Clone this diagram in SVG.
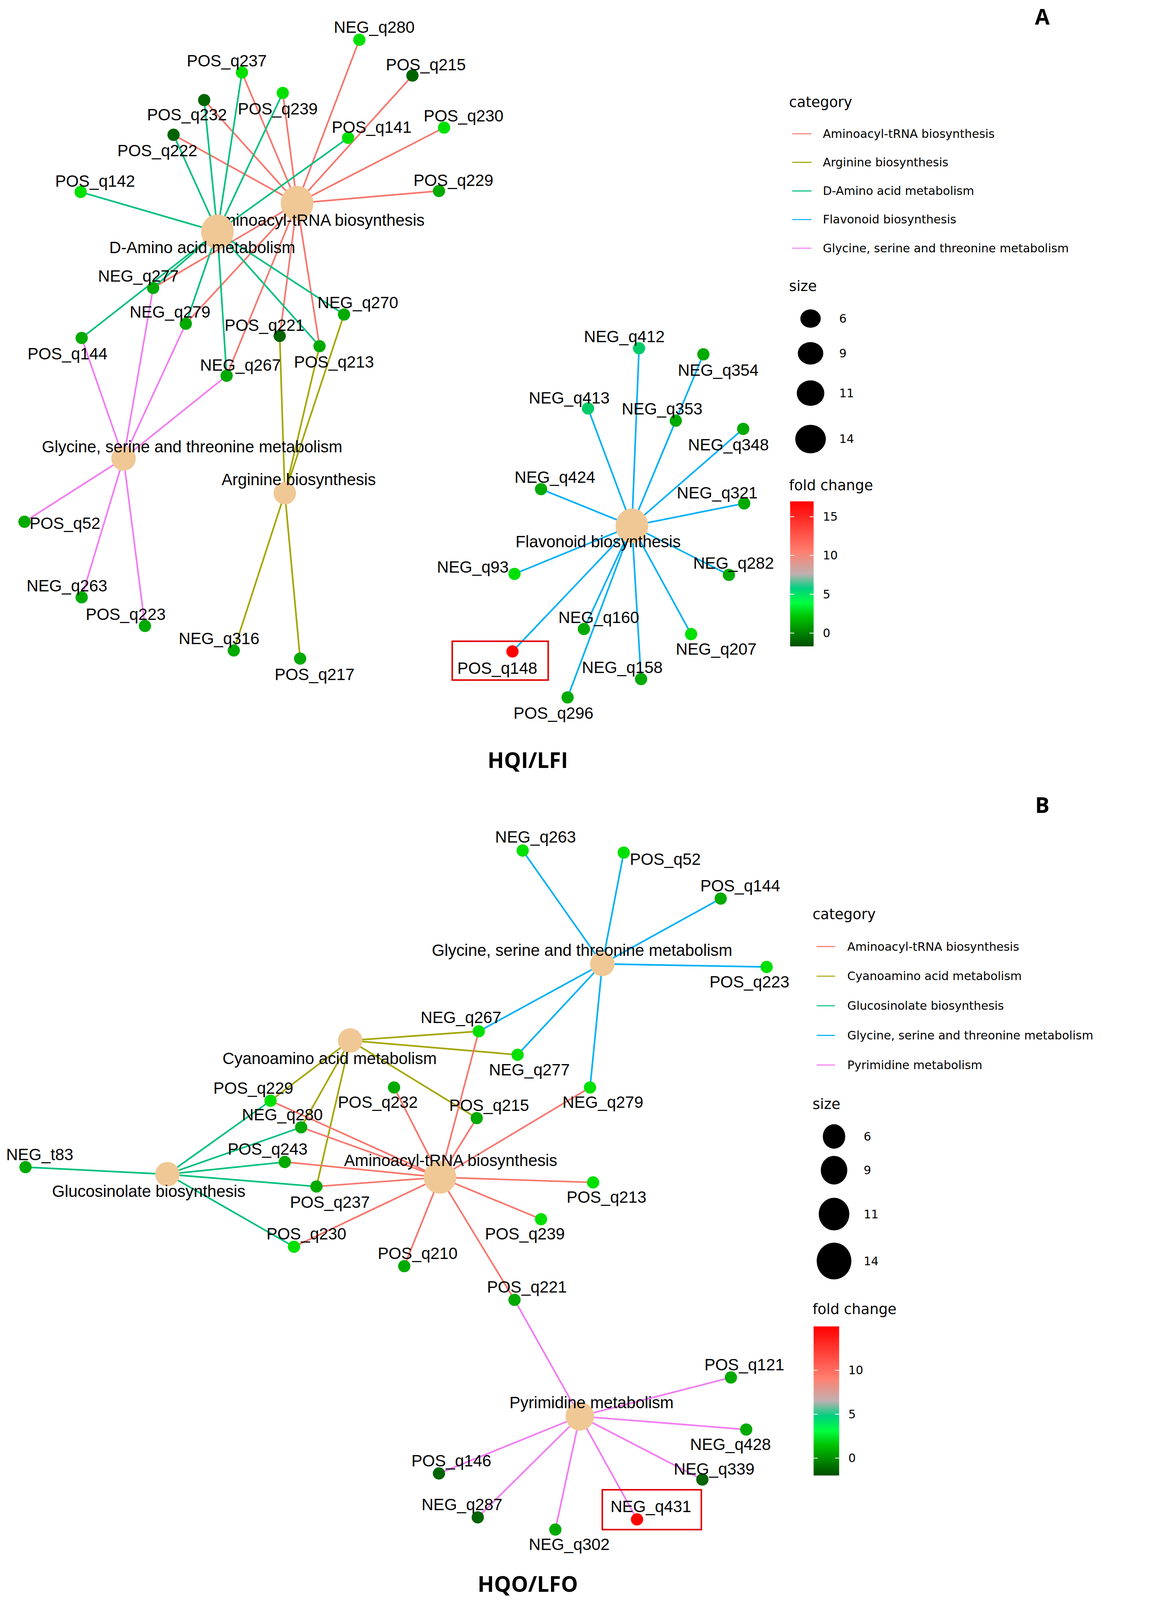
<svg xmlns="http://www.w3.org/2000/svg" width="2978" height="4318" viewBox="0 0 2978 4318">
<style>
.e{stroke-width:1.6;fill:none}
.a{stroke:#F8766D}.o{stroke:#A3A500}.t{stroke:#00BF7D}.b{stroke:#00B0F6}.p{stroke:#F37BF3}
.h{fill:#F0C896}
.l{font-family:"Liberation Sans",Arial,sans-serif;font-size:16px;fill:#000}
.g{font-family:"DejaVu Sans",sans-serif;font-size:11.5px;fill:#000}
.gt{font-family:"DejaVu Sans",sans-serif;font-size:14px;fill:#000}
.c1{fill:#00E000}.c2{fill:#00AA00}.c3{fill:#006400}.cr{fill:#FF0000}
.ttl{font-family:"Open Sans","DejaVu Sans",sans-serif;font-size:21px;font-weight:bold}
</style>
<defs>
<linearGradient id="fcA" x1="0" y1="1" x2="0" y2="0">
<stop offset="0" stop-color="#004d00"/><stop offset="0.2" stop-color="#00c000"/><stop offset="0.3" stop-color="#00ff40"/><stop offset="0.4" stop-color="#00d080"/><stop offset="0.5" stop-color="#c0b0b0"/><stop offset="0.65" stop-color="#ff8070"/><stop offset="1" stop-color="#ff0000"/>
</linearGradient>
</defs>
<rect width="2978" height="4318" fill="#fff"/>
<g transform="scale(2.614)">
<g id="connectors">
<path class="e a" d="M291,199L352,39M291,199L237,71M291,199L404,74M291,199L277,91M291,199L200,98M291,199L170,132M291,199L435,125M291,199L430,187M291,199L150,282M291,199L182,317M291,199L222,368M291,199L274,329M291,199L313,339"/>
<path class="e t" d="M213,227L237,71M213,227L200,98M213,227L170,132M213,227L277,91M213,227L79,188M213,227L341,135M213,227L150,282M213,227L80,331M213,227L182,317M213,227L222,368M213,227L313,339M213,227L337,308"/>
<path class="e p" d="M121,449L80,331M121,449L150,282M121,449L182,317M121,449L222,368M121,449L24,511M121,449L80,585M121,449L142,613"/>
<path class="e o" d="M279,483L274,329M279,483L337,308M279,483L313,339M279,483L229,637M279,483L294,645"/>
<path class="e b" d="M619,515L626,341M619,515L689,347M619,515L576,400M619,515L662,412M619,515L728,420M619,515L530,479M619,515L729,493M619,515L504,562M619,515L714,563M619,515L572,616M619,515L502,638M619,515L677,621M619,515L628,665M619,515L556,683"/>
<path class="e b" d="M590,944L512,833M590,944L611,835M590,944L706,880M590,944L751,947M590,944L469,1010M590,944L507,1033M590,944L578,1065"/>
<path class="e o" d="M343,1019L469,1010M343,1019L507,1033M343,1019L467,1095M343,1019L265,1078M343,1019L295,1104M343,1019L310,1162"/>
<path class="e a" d="M431,1153L469,1010M431,1153L386,1065M431,1153L467,1095M431,1153L578,1065M431,1153L295,1104M431,1153L265,1078M431,1153L279,1138M431,1153L310,1162M431,1153L581,1158M431,1153L530,1194M431,1153L396,1240M431,1153L504,1273M431,1153L288,1221"/>
<path class="e t" d="M164,1150L25,1143M164,1150L265,1078M164,1150L295,1104M164,1150L279,1138M164,1150L310,1162M164,1150L288,1221"/>
<path class="e p" d="M568,1387L504,1273M568,1387L716,1349M568,1387L731,1400M568,1387L688,1449M568,1387L430,1443M568,1387L468,1486M568,1387L544,1498M568,1387L624,1488"/>
</g>
<g id="A_aminoacyl"><ellipse class="h" cx="291" cy="199" rx="16" ry="17"/><text class="l" x="207" y="221">Aminoacyl-tRNA biosynthesis</text></g>
<g id="A_damino"><ellipse class="h" cx="213" cy="227" rx="16" ry="17"/><text class="l" x="107" y="248">D-Amino acid metabolism</text></g>
<g id="A_glycine"><circle class="h" cx="121" cy="449" r="12"/><text class="l" x="41" y="443">Glycine, serine and threonine metabolism</text></g>
<g id="A_arginine"><circle class="h" cx="279" cy="483" r="11"/><text class="l" x="217" y="475">Arginine biosynthesis</text></g>
<g id="A_flavonoid"><ellipse class="h" cx="619" cy="515" rx="16" ry="17"/><text class="l" x="505" y="536">Flavonoid biosynthesis</text></g>
<g id="A_NEG_q280"><circle class="c1" cx="352" cy="39" r="6"/><text class="l" x="327" y="32">NEG_q280</text></g>
<g id="A_POS_q237"><circle class="c1" cx="237" cy="71" r="6"/><text class="l" x="183" y="65">POS_q237</text></g>
<g id="A_POS_q215"><circle class="c3" cx="404" cy="74" r="6"/><text class="l" x="378" y="69">POS_q215</text></g>
<g id="A_POS_q239"><circle class="c1" cx="277" cy="91" r="6"/><text class="l" x="233" y="112">POS_q239</text></g>
<g id="A_POS_q232"><circle class="c3" cx="200" cy="98" r="6"/><text class="l" x="144" y="118">POS_q232</text></g>
<g id="A_POS_q222"><circle class="c3" cx="170" cy="132" r="6"/><text class="l" x="115" y="153">POS_q222</text></g>
<g id="A_POS_q141"><circle class="c1" cx="341" cy="135" r="6"/><text class="l" x="325" y="130">POS_q141</text></g>
<g id="A_POS_q230"><circle class="c1" cx="435" cy="125" r="6"/><text class="l" x="415" y="119">POS_q230</text></g>
<g id="A_POS_q142"><circle class="c1" cx="79" cy="188" r="6"/><text class="l" x="54" y="183">POS_q142</text></g>
<g id="A_POS_q229"><circle class="c2" cx="430" cy="187" r="6"/><text class="l" x="405" y="182">POS_q229</text></g>
<g id="A_NEG_q277"><circle class="c2" cx="150" cy="282" r="6"/><text class="l" x="96" y="276">NEG_q277</text></g>
<g id="A_NEG_q279"><circle class="c2" cx="182" cy="317" r="6"/><text class="l" x="127" y="311">NEG_q279</text></g>
<g id="A_NEG_q270"><circle class="c2" cx="337" cy="308" r="6"/><text class="l" x="311" y="302">NEG_q270</text></g>
<g id="A_POS_q144"><circle class="c2" cx="80" cy="331" r="6"/><text class="l" x="27" y="352">POS_q144</text></g>
<g id="A_POS_q221"><circle class="c3" cx="274" cy="329" r="6"/><text class="l" x="220" y="324">POS_q221</text></g>
<g id="A_POS_q213"><circle class="c2" cx="313" cy="339" r="6"/><text class="l" x="288" y="360">POS_q213</text></g>
<g id="A_NEG_q267"><circle class="c2" cx="222" cy="368" r="6"/><text class="l" x="196" y="363">NEG_q267</text></g>
<g id="A_POS_q52"><circle class="c2" cx="24" cy="511" r="6"/><text class="l" x="29" y="518">POS_q52</text></g>
<g id="A_NEG_q263"><circle class="c2" cx="80" cy="585" r="6"/><text class="l" x="26" y="579">NEG_q263</text></g>
<g id="A_POS_q223"><circle class="c2" cx="142" cy="613" r="6"/><text class="l" x="84" y="607">POS_q223</text></g>
<g id="A_NEG_q316"><circle class="c2" cx="229" cy="637" r="6"/><text class="l" x="175" y="631">NEG_q316</text></g>
<g id="A_POS_q217"><circle class="c2" cx="294" cy="645" r="6"/><text class="l" x="269" y="666">POS_q217</text></g>
<g id="A_NEG_q412"><circle fill="#00cc66" cx="626" cy="341" r="6"/><text class="l" x="572" y="335">NEG_q412</text></g>
<g id="A_NEG_q354"><circle class="c2" cx="689" cy="347" r="6"/><text class="l" x="664" y="368">NEG_q354</text></g>
<g id="A_NEG_q413"><circle fill="#00cc66" cx="576" cy="400" r="6"/><text class="l" x="518" y="395">NEG_q413</text></g>
<g id="A_NEG_q353"><circle class="c2" cx="662" cy="412" r="6"/><text class="l" x="609" y="406">NEG_q353</text></g>
<g id="A_NEG_q348"><circle class="c2" cx="728" cy="420" r="6"/><text class="l" x="674" y="441">NEG_q348</text></g>
<g id="A_NEG_q424"><circle class="c2" cx="530" cy="479" r="6"/><text class="l" x="504" y="473">NEG_q424</text></g>
<g id="A_NEG_q321"><circle class="c2" cx="729" cy="493" r="6"/><text class="l" x="663" y="488">NEG_q321</text></g>
<g id="A_NEG_q93"><circle class="c1" cx="504" cy="562" r="6"/><text class="l" x="428" y="561">NEG_q93</text></g>
<g id="A_NEG_q282"><circle class="c2" cx="714" cy="563" r="6"/><text class="l" x="679" y="557">NEG_q282</text></g>
<g id="A_NEG_q160"><circle class="c2" cx="572" cy="616" r="6"/><text class="l" x="547" y="610">NEG_q160</text></g>
<g id="A_POS_q148"><circle class="cr" cx="502" cy="638" r="6"/><text class="l" x="448" y="660">POS_q148</text><rect x="443" y="628" width="94" height="38" fill="none" stroke="#E00000" stroke-width="1.5"/></g>
<g id="A_NEG_q207"><circle class="c1" cx="677" cy="621" r="6"/><text class="l" x="662" y="641">NEG_q207</text></g>
<g id="A_NEG_q158"><circle class="c2" cx="628" cy="665" r="6"/><text class="l" x="570" y="659">NEG_q158</text></g>
<g id="A_POS_q296"><circle class="c2" cx="556" cy="683" r="6"/><text class="l" x="503" y="704">POS_q296</text></g>
<text class="ttl" x="1021" y="24" text-anchor="middle" font-size="18">A</text>
<text class="ttl" x="517" y="752" text-anchor="middle">HQI/LFI</text>
<g id="legendA">
<text class="gt" x="773" y="105">category</text>
<path stroke="#F8766D" d="M776,131H795"/><text class="g" x="806" y="135">Aminoacyl-tRNA biosynthesis</text>
<path stroke="#A3A500" d="M776,159H795"/><text class="g" x="806" y="163">Arginine biosynthesis</text>
<path stroke="#00BF7D" d="M776,187H795"/><text class="g" x="806" y="191">D-Amino acid metabolism</text>
<path stroke="#00B0F6" d="M776,215H795"/><text class="g" x="806" y="219">Flavonoid biosynthesis</text>
<path stroke="#F37BF3" d="M776,243H795"/><text class="g" x="806" y="247">Glycine, serine and threonine metabolism</text>
<text class="gt" x="773" y="285">size</text>
<ellipse cx="794" cy="312" rx="10" ry="9"/><text class="g" x="822" y="316">6</text>
<ellipse cx="794" cy="346" rx="12.5" ry="11"/><text class="g" x="822" y="350">9</text>
<ellipse cx="794" cy="385" rx="13.5" ry="12.5"/><text class="g" x="822" y="389">11</text>
<ellipse cx="794" cy="430" rx="15" ry="14"/><text class="g" x="822" y="434">14</text>
<text class="gt" x="773" y="480">fold change</text>
<rect x="774" y="491" width="23" height="142" fill="url(#fcA)"/>
<g stroke="#fff" stroke-width="0.8"><path d="M774,506h4M793,506h4M774,544h4M793,544h4M774,582h4M793,582h4M774,620h4M793,620h4"/></g>
<text class="g" x="806" y="510">15</text><text class="g" x="806" y="548">10</text><text class="g" x="806" y="586">5</text><text class="g" x="806" y="624">0</text>
</g>
<g id="B_glycine"><circle class="h" cx="590" cy="944" r="12"/><text class="l" x="423" y="936">Glycine, serine and threonine metabolism</text></g>
<g id="B_cyano"><circle class="h" cx="343" cy="1019" r="12"/><text class="l" x="218" y="1042">Cyanoamino acid metabolism</text></g>
<g id="B_aminoacyl"><ellipse class="h" cx="431" cy="1153" rx="16" ry="16"/><text class="l" x="337" y="1142">Aminoacyl-tRNA biosynthesis</text></g>
<g id="B_glucosinolate"><circle class="h" cx="164" cy="1150" r="12"/><text class="l" x="51" y="1172">Glucosinolate biosynthesis</text></g>
<g id="B_pyrimidine"><circle class="h" cx="568" cy="1387" r="14"/><text class="l" x="499" y="1379">Pyrimidine metabolism</text></g>
<g id="B_NEG_q263"><circle class="c1" cx="512" cy="833" r="6"/><text class="l" x="485" y="825">NEG_q263</text></g>
<g id="B_POS_q52"><circle class="c1" cx="611" cy="835" r="6"/><text class="l" x="617" y="847">POS_q52</text></g>
<g id="B_POS_q144"><circle class="c2" cx="706" cy="880" r="6"/><text class="l" x="686" y="873">POS_q144</text></g>
<g id="B_POS_q223"><circle class="c1" cx="751" cy="947" r="6"/><text class="l" x="695" y="967">POS_q223</text></g>
<g id="B_NEG_q267"><circle class="c1" cx="469" cy="1010" r="6"/><text class="l" x="412" y="1002">NEG_q267</text></g>
<g id="B_NEG_q277"><circle class="c1" cx="507" cy="1033" r="6"/><text class="l" x="479" y="1053">NEG_q277</text></g>
<g id="B_POS_q229"><circle class="c1" cx="265" cy="1078" r="6"/><text class="l" x="209" y="1071">POS_q229</text></g>
<g id="B_NEG_q280"><circle class="c2" cx="295" cy="1104" r="6"/><text class="l" x="237" y="1097">NEG_q280</text></g>
<g id="B_POS_q232"><circle class="c2" cx="386" cy="1065" r="6"/><text class="l" x="331" y="1085">POS_q232</text></g>
<g id="B_POS_q215"><circle class="c2" cx="467" cy="1095" r="6"/><text class="l" x="440" y="1088">POS_q215</text></g>
<g id="B_NEG_q279"><circle class="c1" cx="578" cy="1065" r="6"/><text class="l" x="551" y="1085">NEG_q279</text></g>
<g id="B_NEG_t83"><circle class="c2" cx="25" cy="1143" r="6"/><text class="l" x="6" y="1136">NEG_t83</text></g>
<g id="B_POS_q243"><circle class="c2" cx="279" cy="1138" r="6"/><text class="l" x="223" y="1131">POS_q243</text></g>
<g id="B_POS_q237"><circle class="c2" cx="310" cy="1162" r="6"/><text class="l" x="284" y="1183">POS_q237</text></g>
<g id="B_POS_q213"><circle class="c1" cx="581" cy="1158" r="6"/><text class="l" x="555" y="1178">POS_q213</text></g>
<g id="B_POS_q230"><circle class="c1" cx="288" cy="1221" r="6"/><text class="l" x="261" y="1214">POS_q230</text></g>
<g id="B_POS_q239"><circle class="c1" cx="530" cy="1194" r="6"/><text class="l" x="475" y="1214">POS_q239</text></g>
<g id="B_POS_q210"><circle class="c2" cx="396" cy="1240" r="6"/><text class="l" x="370" y="1233">POS_q210</text></g>
<g id="B_POS_q221"><circle class="c2" cx="504" cy="1273" r="6"/><text class="l" x="477" y="1266">POS_q221</text></g>
<g id="B_POS_q121"><circle class="c2" cx="716" cy="1349" r="6"/><text class="l" x="690" y="1342">POS_q121</text></g>
<g id="B_NEG_q428"><circle class="c2" cx="731" cy="1400" r="6"/><text class="l" x="676" y="1420">NEG_q428</text></g>
<g id="B_NEG_q339"><circle class="c3" cx="688" cy="1449" r="6"/><text class="l" x="660" y="1444">NEG_q339</text></g>
<g id="B_POS_q146"><circle class="c3" cx="430" cy="1443" r="6"/><text class="l" x="403" y="1436">POS_q146</text></g>
<g id="B_NEG_q287"><circle class="c3" cx="468" cy="1486" r="6"/><text class="l" x="413" y="1479">NEG_q287</text></g>
<g id="B_NEG_q302"><circle class="c2" cx="544" cy="1498" r="6"/><text class="l" x="518" y="1518">NEG_q302</text></g>
<g id="B_NEG_q431"><circle class="cr" cx="624" cy="1488" r="6"/><text class="l" x="598" y="1481">NEG_q431</text><rect x="590" y="1459" width="97" height="39" fill="none" stroke="#E00000" stroke-width="1.5"/></g>
<text class="ttl" x="1021" y="796" text-anchor="middle" font-size="18">B</text>
<text class="ttl" x="517" y="1559" text-anchor="middle">HQO/LFO</text>
<g id="legendB">
<text class="gt" x="796" y="900">category</text>
<path stroke="#F8766D" d="M800,927H818"/><text class="g" x="830" y="931">Aminoacyl-tRNA biosynthesis</text>
<path stroke="#A3A500" d="M800,956H818"/><text class="g" x="830" y="960">Cyanoamino acid metabolism</text>
<path stroke="#00BF7D" d="M800,985H818"/><text class="g" x="830" y="989">Glucosinolate biosynthesis</text>
<path stroke="#00B0F6" d="M800,1014H818"/><text class="g" x="830" y="1018">Glycine, serine and threonine metabolism</text>
<path stroke="#F37BF3" d="M800,1043H818"/><text class="g" x="830" y="1047">Pyrimidine metabolism</text>
<text class="gt" x="796" y="1086">size</text>
<ellipse cx="817" cy="1113" rx="11" ry="12"/><text class="g" x="846" y="1117">6</text>
<ellipse cx="817" cy="1146" rx="13" ry="14"/><text class="g" x="846" y="1150">9</text>
<ellipse cx="817" cy="1189" rx="15" ry="16"/><text class="g" x="846" y="1193">11</text>
<ellipse cx="817" cy="1235" rx="17" ry="18"/><text class="g" x="846" y="1239">14</text>
<text class="gt" x="796" y="1287">fold change</text>
<rect x="797" y="1299" width="25" height="146" fill="url(#fcA)"/>
<g stroke="#fff" stroke-width="0.8"><path d="M797,1342h4M818,1342h4M797,1385h4M818,1385h4M797,1428h4M818,1428h4"/></g>
<text class="g" x="831" y="1346">10</text><text class="g" x="831" y="1389">5</text><text class="g" x="831" y="1432">0</text>
</g>
</g>
</svg>
